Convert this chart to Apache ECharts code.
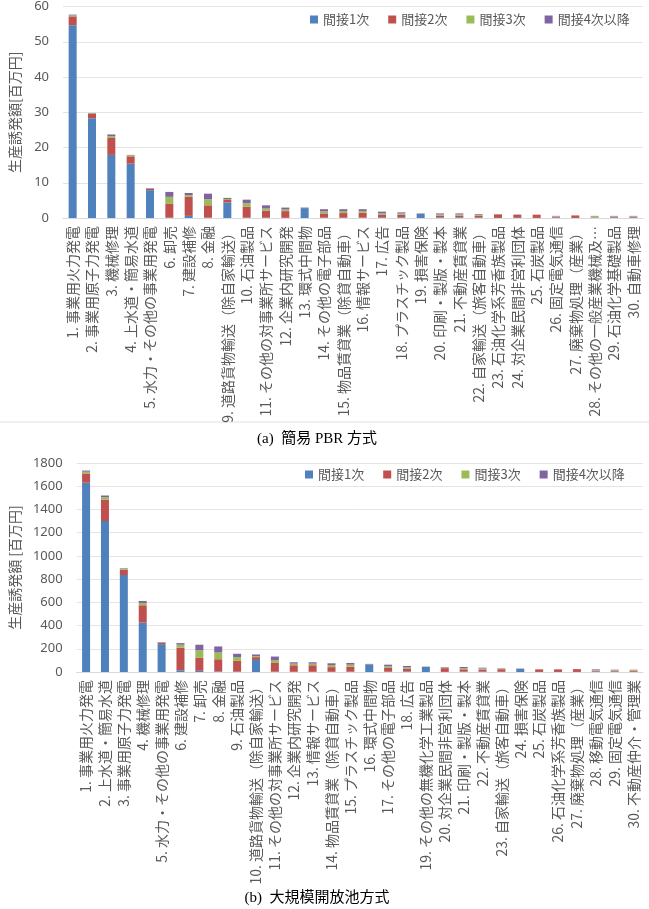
<!DOCTYPE html>
<html><head><meta charset="utf-8">
<script src="https://cdn.jsdelivr.net/npm/echarts@6/dist/echarts.min.js"></script>
<style>html,body{margin:0;padding:0;background:#fff}#c{width:649px;height:909px}</style>
</head><body><div id="c"></div>
<script>
const seriesNames = ['間接1次','間接2次','間接3次','間接4次以降'];
const colors = ['#4F81BD','#C0504D','#9BBB59','#8064A2'];

const catsA = ['1. 事業用火力発電','2. 事業用原子力発電','3. 機械修理','4. 上水道・簡易水道','5. 水力・その他の事業用発電','6. 卸売','7. 建設補修','8. 金融','9. 道路貨物輸送（除自家輸送）','10. 石油製品','11. その他の対事業所サービス','12. 企業内研究開発','13. 環式中間物','14. その他の電子部品','15. 物品賃貸業（除貸自動車）','16. 情報サービス','17. 広告','18. プラスチック製品','19. 損害保険','20. 印刷・製版・製本','21. 不動産賃貸業','22. 自家輸送（旅客自動車）','23. 石油化学系芳香族製品','24. 対企業民間非営利団体','25. 石炭製品','26. 固定電気通信','27. 廃棄物処理（産業）','28. その他の一般産業機械及…','29. 石油化学基礎製品','30. 自動車修理'];
const a1 = [54.7,28.3,17.9,15.4,7.9,0.1,0.6,0.1,4.4,0.1,0.1,0.05,2.8,0.1,0.1,0.1,0.2,0.2,1.2,0.2,0.2,0.1,0.02,0.05,0.02,0.15,0.02,0.1,0.15,0.15];
const a2 = [2.5,1.2,4.8,2.1,0.4,3.9,5.4,3.5,0.7,3.1,2.0,1.9,0.1,1.2,1.3,1.4,0.8,0.7,0.05,0.5,0.5,0.5,1.0,0.8,0.9,0.2,0.7,0.1,0.2,0.2];
const a3 = [0.3,0.2,0.5,0.3,0.1,2.0,0.5,1.7,0.3,1.0,0.6,0.5,0.05,0.6,0.6,0.5,0.4,0.4,0.05,0.3,0.3,0.3,0.05,0.05,0.02,0.15,0.02,0.3,0.15,0.15];
const a4 = [0.2,0.1,0.5,0.1,0.1,1.4,0.6,1.6,0.3,1.0,0.9,0.5,0.05,0.6,0.5,0.5,0.4,0.3,0.05,0.3,0.3,0.2,0.05,0.1,0.02,0.1,0.02,0.1,0.1,0.1];

const catsB = ['1. 事業用火力発電','2. 上水道・簡易水道','3. 事業用原子力発電','4. 機械修理','5. 水力・その他の事業用発電','6. 建設補修','7. 卸売','8. 金融','9. 石油製品','10. 道路貨物輸送（除自家輸送）','11. その他の対事業所サービス','12. 企業内研究開発','13. 情報サービス','14. 物品賃貸業（除貸自動車）','15. プラスチック製品','16. 環式中間物','17. その他の電子部品','18. 広告','19. その他の無機化学工業製品','20. 対企業民間非営利団体','21. 印刷・製版・製本','22. 不動産賃貸業','23. 自家輸送（旅客自動車）','24. 損害保険','25. 石炭製品','26. 石油化学系芳香族製品','27. 廃棄物処理（産業）','28. 移動電気通信','29. 固定電気通信','30. 不動産仲介・管理業'];
const b1 = [1630,1300,835,425,240,15,10,5,3,104,3,2,2,2,3,66,3,5,44,1,3,3,2,28,0.5,0.5,0.5,5,4,2];
const b2 = [80,185,45,150,12,194,112,105,93,24,75,56,56,40,42,2,32,22,1,32,20,18,22,1,22,22,24,8,7,10];
const b3 = [15,20,8,20,3,26,64,58,32,8,23,14,14,18,18,1,14,12,1,3,10,9,5,0.5,0.5,0.5,0.5,5,5,6];
const b4 = [10,15,5,17,3,14,49,52,29,15,32,12,12,15,15,1,14,13,1,5,10,7,3,0.5,0.5,0.5,0.5,5,4,2];

const valsA = [a1,a2,a3,a4];
const valsB = [b1,b2,b3,b4];

const txt = '#595959';
const grid = '#e4e4e4';
const cjk = '"Noto Sans CJK JP", sans-serif';
const catAxis = (gi, cats) => ({
  type:'category', gridIndex:gi, data:cats,
  axisLine:{lineStyle:{color:'#d9d9d9'}}, axisTick:{show:false},
  axisLabel:{rotate:90, interval:0, color:txt, fontSize:14, margin:8, fontFamily:cjk}
});
const valAxis = (gi, max, interval, name, gap) => ({
  type:'value', gridIndex:gi, min:0, max:max, interval:interval,
  name:name, nameLocation:'middle', nameRotate:90, nameGap:gap,
  nameTextStyle:{color:txt, fontSize:14, fontFamily:cjk},
  axisLine:{show:false}, axisTick:{show:false},
  axisLabel:{color:txt, fontSize:13, margin:14, fontFamily:'"Noto Sans", sans-serif', formatter:(v)=>String(v)},
  splitLine:{lineStyle:{color:grid}}
});
const series = [];
valsA.forEach((v,i)=>series.push({name:seriesNames[i], type:'bar', stack:'a', xAxisIndex:0, yAxisIndex:0, data:v, barWidth:8, itemStyle:{color:colors[i]}}));
valsB.forEach((v,i)=>series.push({name:seriesNames[i], type:'bar', stack:'b', xAxisIndex:1, yAxisIndex:1, data:v, barWidth:8, itemStyle:{color:colors[i]}}));

const legendCommon = {data:seriesNames, itemWidth:8, itemHeight:8, itemGap:19, icon:'rect', padding:0,
  textStyle:{color:txt, fontSize:13, fontFamily:cjk}};

const chart = echarts.init(document.getElementById('c'), null, {renderer:'canvas'});
chart.setOption({
  animation:false,
  backgroundColor:'#fff',
  grid:[
    {left:59, right:6, top:5, height:213},
    {left:70, right:6, top:463, height:209}
  ],
  xAxis:[catAxis(0,catsA), catAxis(1,catsB)],
  yAxis:[valAxis(0,60,10,'生産誘発額[百万円]',41), valAxis(1,1800,200,'生産誘発額 [百万円]',53)],
  legend:[
    Object.assign({left:310, top:13}, legendCommon),
    Object.assign({left:305, top:468}, legendCommon)
  ],
  title:[
    {text:'(a)  簡易 PBR 方式', left:312, top:427, textAlign:'center', textStyle:{fontSize:15, fontWeight:'normal', color:'#000', fontFamily:'"Liberation Serif", "Noto Sans CJK JP", serif'}},
    {text:'(b)  大規模開放池方式', left:312, top:886, textAlign:'center', textStyle:{fontSize:15, fontWeight:'normal', color:'#000', fontFamily:'"Liberation Serif", "Noto Sans CJK JP", serif'}}
  ],
  graphic:[
    {type:'line', shape:{x1:0, y1:422, x2:649, y2:422}, style:{stroke:'#e0e0e0', lineWidth:1}, silent:true}
  ],
  series:series
});
</script></body></html>
